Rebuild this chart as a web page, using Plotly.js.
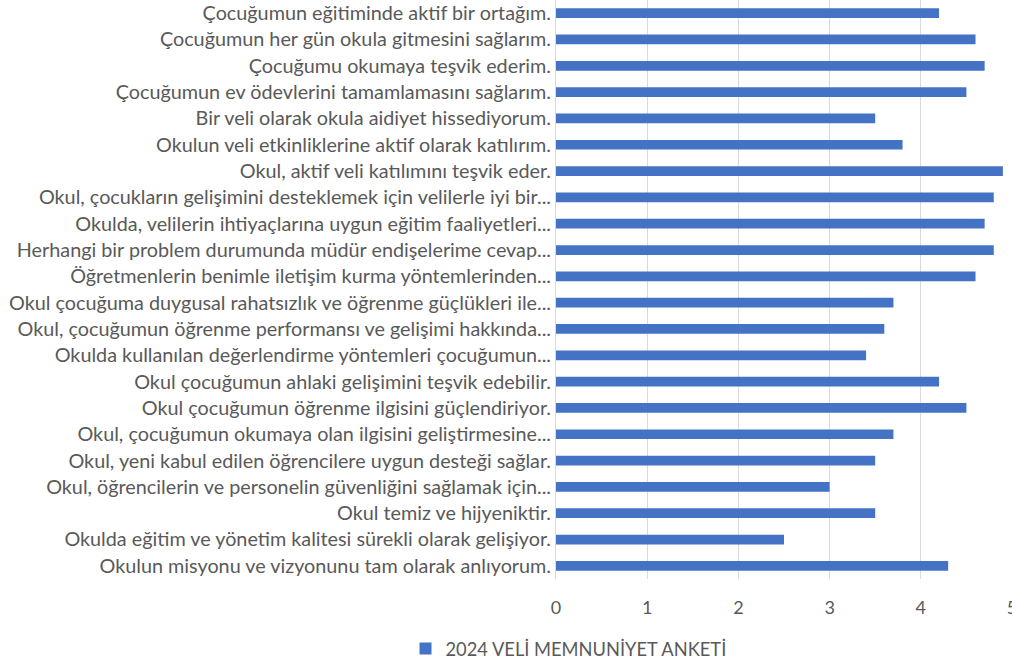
<!DOCTYPE html>
<html><head><meta charset="utf-8">
<script src="https://cdn.plot.ly/plotly-3.0.1.min.js"></script>
<style>html,body{margin:0;padding:0;background:#fff}#c{width:1012px;height:661px}</style>
</head><body><div id="c"></div>
<script>
const categories = [
 "Çocuğumun eğitiminde aktif bir ortağım.",
 "Çocuğumun her gün okula gitmesini sağlarım.",
 "Çocuğumu okumaya teşvik ederim.",
 "Çocuğumun ev ödevlerini tamamlamasını sağlarım.",
 "Bir veli olarak okula aidiyet hissediyorum.",
 "Okulun veli etkinliklerine aktif olarak katılırım.",
 "Okul, aktif veli katılımını teşvik eder.",
 "Okul, çocukların gelişimini desteklemek için velilerle iyi bir...",
 "Okulda, velilerin ihtiyaçlarına uygun eğitim faaliyetleri...",
 "Herhangi bir problem durumunda müdür endişelerime cevap...",
 "Öğretmenlerin benimle iletişim kurma yöntemlerinden...",
 "Okul çocuğuma duygusal rahatsızlık ve öğrenme güçlükleri ile...",
 "Okul, çocuğumun öğrenme performansı ve gelişimi hakkında...",
 "Okulda kullanılan değerlendirme yöntemleri çocuğumun...",
 "Okul çocuğumun ahlaki gelişimini teşvik edebilir.",
 "Okul çocuğumun öğrenme ilgisini güçlendiriyor.",
 "Okul, çocuğumun okumaya olan ilgisini geliştirmesine...",
 "Okul, yeni kabul edilen öğrencilere uygun desteği sağlar.",
 "Okul, öğrencilerin ve personelin güvenliğini sağlamak için...",
 "Okul temiz ve hijyeniktir.",
 "Okulda eğitim ve yönetim kalitesi sürekli olarak gelişiyor.",
 "Okulun misyonu ve vizyonunu tam olarak anlıyorum."
];
const values = [4.2, 4.6, 4.7, 4.5, 3.5, 3.8, 4.9, 4.8, 4.7, 4.8, 4.6, 3.7, 3.6, 3.4, 4.2, 4.5, 3.7, 3.5, 3.0, 3.5, 2.5, 4.3];
const seriesName = "2024 VELİ MEMNUNİYET ANKETİ";
const xTicks = [0, 1, 2, 3, 4, 5];

const font = "Lato, Open Sans, sans-serif";
Plotly.newPlot('c', [{
  type: 'bar', orientation: 'h', y: categories, x: values, name: seriesName,
  marker: {color: '#4472C4'}, showlegend: true, hoverinfo: 'x+y'
}], {
  width: 1012, height: 661,
  margin: {l: 556, r: 0, t: 0, b: 82, autoexpand: false},
  bargap: 0.63,
  paper_bgcolor: '#fff', plot_bgcolor: '#fff',
  font: {family: font, color: '#595959', size: 19.8},
  xaxis: {range: [0, 5], tickvals: xTicks, showgrid: true, gridcolor: '#d9d9d9', gridwidth: 1,
          zeroline: false, showline: false, ticks: '', tickfont: {size: 18, color: '#595959'},
          ticklabeloverflow: 'allow', ticklabelstandoff: 16,
          automargin: false, fixedrange: true},
  yaxis: {autorange: 'reversed', showline: true, linecolor: '#d9d9d9', ticks: '', automargin: false,
          tickfont: {size: 19.8, color: '#595959'}, showgrid: false},
  legend: {orientation: 'h', x: -0.33, xanchor: 'left', y: -0.12, yanchor: 'middle', itemwidth: 30,
           font: {size: 18.3, color: '#595959'}},
}, {staticPlot: true});
</script></body></html>
